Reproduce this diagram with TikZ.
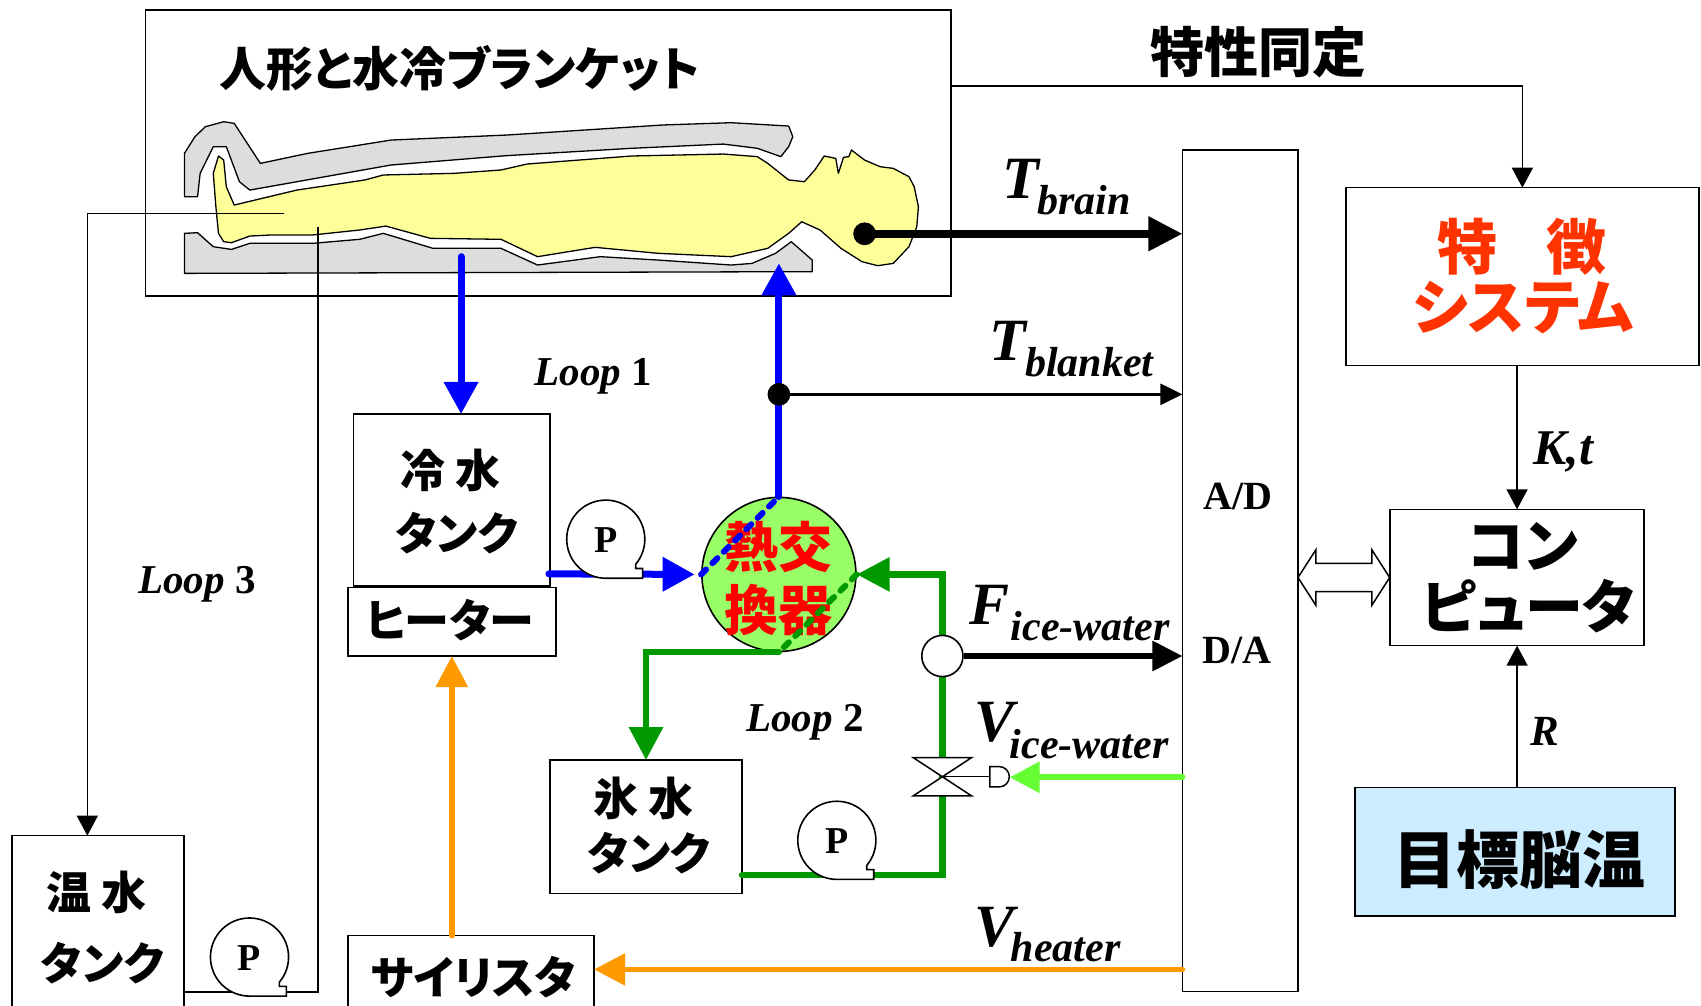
\documentclass[tikz,border=0pt]{standalone}
\usepackage{fontspec}
\setmainfont{Liberation Serif}
\newfontfamily\jp{Noto Sans CJK JP}[RawFeature=+palt]
\usetikzlibrary{arrows.meta,calc}

\definecolor{pipeblue}{HTML}{0000FF}
\definecolor{pipegreen}{HTML}{009900}
\definecolor{signalgreen}{HTML}{66FF33}
\definecolor{pipeorange}{HTML}{FF9900}
\definecolor{hxfill}{HTML}{99FF66}
\definecolor{bodyfill}{HTML}{FFFF99}
\definecolor{blanketfill}{HTML}{DDDDDD}
\definecolor{targetfill}{HTML}{CCECFF}
\definecolor{featred}{HTML}{FF3300}
\newcommand\fsz[1]{\fontsize{#1}{#1}\selectfont}
\def\pxu{1.0848pt}

\begin{document}
\begin{tikzpicture}[x=1.0848pt, y=-1.0848pt,
  box/.style={draw, line width=1.6pt, fill=white, inner sep=0pt, outer sep=0pt, rectangle},
  jt/.style={inner sep=0pt, outer sep=0pt, font=\jp\bfseries\fsz{#1}},
  sub/.style={inner sep=0pt, outer sep=0pt, anchor=base west, font=\bfseries\itshape\fsz{#1}},
  plain/.style={inner sep=0pt, outer sep=0pt, anchor=base, font=\bfseries\fsz{#1}},
  sig/.style={line width=1.5pt, -{Triangle[length=20pt,width=21pt]}},
  bluepipe/.style={draw=pipeblue, line width=7pt, line cap=round, -{Triangle[length=32pt,width=33pt]}},
  greenpipe/.style={draw=pipegreen, line width=6.5pt, line cap=round, -{Triangle[length=33pt,width=33pt]}},
  orangepipe/.style={draw=pipeorange, line width=5.5pt, line cap=round, -{Triangle[length=31pt,width=31pt]}},
  dot/.style={circle, fill=black, inner sep=0pt, minimum size=21*\pxu},
  pump/.pic={
    \draw[line width=1.6pt, fill=white] (40:36) arc[start angle=40, end angle=-270, radius=36]
      -- (34,36) -- (34,27) -- (27.6,27) -- cycle;
    \node[inner sep=0pt, font=\bfseries\fsz{38pt}] (-lbl) at (0,1) {P};
  }]
\useasboundingbox (0,0) rectangle (1568,927);

% ---------- manikin and cooling blanket ----------
\node[box, minimum width=742.4*\pxu, minimum height=264*\pxu] (dummy) at (505.2,141) {};
\node[jt=47pt] (title) at (423.5,63) {人形と水冷ブランケット};

\draw[line width=1.3pt, fill=blanketfill, line join=round]
  (170.0,181.3) -- (170.0,141.4) -- (179.7,126.0) -- (189.3,116.8) -- (206.2,112.2) -- (215.9,113.7)
  -- (240.0,150.6) -- (283.4,141.4) -- (360.5,129.1) -- (466.6,124.5) -- (611.3,115.2) -- (674.0,113.1)
  -- (727.0,116.2) -- (730.8,126.0) -- (727.0,135.2) -- (719.8,144.4) -- (698.1,136.7) -- (666.7,132.8)
  -- (582.3,136.7) -- (466.6,143.5) -- (360.5,152.1) -- (230.3,175.2) -- (220.7,167.5) -- (208.6,135.2)
  -- (196.6,135.2) -- (184.5,159.8) -- (182.1,181.3) -- cycle;
\draw[line width=1.3pt, fill=blanketfill, line join=round]
  (170.0,215.1) -- (182.1,214.5) -- (186.9,218.8) -- (196.6,227.4) -- (213.4,229.9) -- (230.3,224.3)
  -- (288.2,224.3) -- (331.6,220.6) -- (353.3,215.1) -- (399.1,228.9) -- (461.8,228.9) -- (495.5,244.3)
  -- (553.4,236.6) -- (606.4,239.7) -- (674.0,244.3) -- (693.2,242.8) -- (714.9,233.5) -- (729.4,222.8)
  -- (748.7,239.7) -- (748.7,250.4) -- (170.0,252.0) -- cycle;
\draw[line width=1.3pt, fill=bodyfill, line join=round]
  (201.4,143.8) -- (196.6,159.8) -- (199.0,190.5) -- (201.4,215.1) -- (206.2,222.8) -- (213.4,223.7)
  -- (230.3,217.6) -- (249.6,216.6) -- (288.2,216.6) -- (331.6,212.0) -- (355.7,208.4) -- (396.7,219.7)
  -- (461.8,220.6) -- (495.5,236.6) -- (548.6,228.0) -- (606.4,233.5) -- (674.0,236.6) -- (707.7,228.9)
  -- (727.0,215.1) -- (739.0,204.4) -- (755.9,212.0) -- (775.2,228.9) -- (794.5,241.2) -- (809.0,244.9)
  -- (823.4,242.8) -- (837.9,227.4) -- (845.1,209.0) -- (846.6,190.5) -- (842.7,172.1) -- (837.9,162.9)
  -- (823.4,155.2) -- (811.4,153.7) -- (796.9,147.5) -- (784.9,138.3) -- (782.4,144.4) -- (777.6,145.0)
  -- (772.8,159.8) -- (770.4,146.0) -- (759.8,143.8) -- (751.1,156.7) -- (741.5,167.5) -- (727.0,165.9)
  -- (707.7,150.6) -- (698.1,144.4) -- (666.7,142.0) -- (582.3,143.8) -- (485.9,151.2) -- (461.8,156.7)
  -- (418.4,159.8) -- (353.3,161.3) -- (336.4,165.9) -- (273.7,175.2) -- (215.9,189.0) -- (208.6,172.1)
  -- (206.2,147.5) -- cycle;

% ---------- boxes ----------
\node[box, minimum width=106.5*\pxu, minimum height=776*\pxu] (ad) at (1143.25,526) {};
\node[box, minimum width=325.1*\pxu, minimum height=164*\pxu] (feat) at (1403.35,255) {};
\node[box, minimum width=234.1*\pxu, minimum height=125.7*\pxu] (comp) at (1398.45,532.35) {};
\node[box, fill=targetfill, minimum width=295*\pxu, minimum height=118.4*\pxu] (target) at (1396.5,785.2) {};
\node[box, minimum width=181*\pxu, minimum height=158.4*\pxu] (cold) at (416.5,460.8) {};
\node[box, minimum width=191.9*\pxu, minimum height=63*\pxu] (heater) at (416.65,573.2) {};
\node[box, minimum width=177*\pxu, minimum height=122.9*\pxu] (ice) at (595.5,762.05) {};
\node[box, minimum width=158.4*\pxu, minimum height=179.7*\pxu] (warm) at (90.2,860.15) {};
\node[box, minimum width=227*\pxu, minimum height=87.5*\pxu] (thyr) at (434.1,906.25) {};
\node[circle, draw, line width=1.6pt, fill=hxfill, inner sep=0pt, minimum size=142*\pxu] (hx) at (718,529.5) {};

% ---------- loop 1 (cold water) ----------
\coordinate (blkout) at (425,236.6);
\draw[bluepipe] (blkout) -- (blkout |- cold.north);
\coordinate (coldout) at (506,529);
\draw[bluepipe, shorten >=6.5pt] (coldout) -- (hx.west);
\coordinate (blkin) at (718,242.7);
\draw[bluepipe] (hx.north) -- (blkin);
\node[dot] (tblank) at (718,363.5) {};
\draw[line width=2.5pt, -{Triangle[length=22pt,width=21pt]}] (tblank.center) -- (tblank -| ad.west);
\node[dot] (brain) at (797,215.5) {};
\draw[line width=7.5pt, -{Triangle[length=34pt,width=33pt]}] (brain.center) -- (brain -| ad.west);

% ---------- loop 2 (ice water) ----------
\draw[greenpipe] (hx.south) -| (ice.north);
\coordinate (iceout) at (684,806.6);
\coordinate (gcorner) at (868.7,529.5);
\draw[greenpipe] (iceout) -| (gcorner) -- (hx.east);
\node[circle, draw, line width=1.6pt, fill=white, inner sep=0pt, minimum size=38*\pxu] (fm) at (868.7,604.7) {};
\draw[line width=6pt, -{Triangle[length=30pt,width=29pt]}] (fm.east) -- (fm -| ad.west);
\coordinate (valve) at (868.7,716);
\coordinate (act) at (912.4,716);
\draw[line width=1.5pt] (valve) -- (act);
\draw[line width=1.5pt, fill=white] ($(valve)+(-27,-17.7)$) -- ++(54,0) -- ++(-54,35.4) -- ++(54,0) -- cycle;
\draw[line width=1.5pt, fill=white] ($(act)+(0,-9.4)$) -- ++(8.6,0) arc[start angle=-90, end angle=90, radius=9.4] -- ($(act)+(0,9.4)$) -- cycle;
\coordinate (actin) at (930.7,716.5);
\draw[draw=signalgreen, line width=6pt, line cap=round, -{Triangle[length=30pt,width=30pt]}] (actin -| ad.west) -- (actin);

% ---------- heater drive ----------
\coordinate (thyin) at (547.6,893.6);
\draw[orangepipe] (thyin -| ad.west) -- (thyin);
\coordinate (thytop) at (416.5,862.5);
\draw[orangepipe] (thytop) -- (thytop |- heater.south);

% ---------- loop 3 (warm water) ----------
\coordinate (l3a) at (262,197);
\coordinate (w3in) at (80.5,770.3);
\draw[sig] (l3a) -| (w3in);
\coordinate (w3out) at (169.4,914.2);
\coordinate (l3b) at (293,209.7);
\draw[line width=1.5pt] (w3out) -| (l3b);

% ---------- pumps ----------
\pic (pa) at (558.4,497) {pump};
\pic (pb) at (771.4,774.6) {pump};
\pic (pc) at (230,882.2) {pump};

% ---------- heat exchanger ----------
\node[jt=54pt, text=red] (hx1) at (717.5,504) {熱交};
\node[jt=54pt, text=red] (hx2) at (717.5,562.3) {換器};
\draw[pipeblue, line width=6pt, line cap=round, dash pattern=on 7pt off 9pt] (hx.west) -- (hx.north);
\draw[pipegreen, line width=6pt, line cap=round, dash pattern=on 7pt off 9pt] (hx.east) -- (hx.south);

% ---------- identification and control ----------
\coordinate (dm1) at (876.4,79.3);
\draw[sig] (dm1) -| (feat.north);
\node[jt=54pt] (ident) at (1160.5,47.7) {特性同定};
\draw[sig] (feat.south -| comp.north) -- (comp.north);
\draw[sig] (target.north -| comp.south) -- (comp.south);
\coordinate (dbl) at (ad.east |- comp.west);
\draw[line width=1.5pt, fill=white] (dbl) -- ++(16.4,-25.5) -- ++(0,12.5) -- ++(51.7,0) -- ++(0,-12.5)
  -- ++(16.4,25.5) -- ++(-16.4,25.5) -- ++(0,-12.5) -- ++(-51.7,0) -- ++(0,12.5) -- cycle;

% ---------- texts ----------
\node[jt=60pt, text=featred] (feat1) at (1403,227.7) {特\hspace{49pt}徴};
\node[jt=60pt, text=featred] (feat2) at (1404,283.5) {システム};
\node[jt=58pt] (comp1) at (1404,504) {コン};
\node[jt=58pt] (comp2) at (1409,558.5) {ピュータ};
\node[jt=63pt] (targ) at (1400.5,792) {目標脳温};
\node[jt=45pt] (cold1) at (415.3,434) {冷 水};
\node[jt=45pt] (cold2) at (421,491) {タンク};
\node[jt=45pt] (heat) at (414.6,571.5) {ヒーター};
\node[jt=45pt] (ice1) at (593,736) {氷 水};
\node[jt=45pt] (ice2) at (598.5,786) {タンク};
\node[jt=45pt] (warm1) at (88.9,823) {温 水};
\node[jt=45pt] (warm2) at (94.4,888) {タンク};
\node[jt=45pt] (thy) at (436.4,901) {サイリスタ};

\node[plain=40pt] (adl) at (1141,470) {A/D};
\node[plain=40pt] (dal) at (1140,612) {D/A};
\node[sub=60pt] (tb1) at (924,182.6) {T};
\node[sub=42pt] (tb2) at (956,198) {brain};
\node[sub=60pt] (tk1) at (912,332) {T};
\node[sub=42pt] (tk2) at (945,347) {blanket};
\node[sub=60pt] (fw1) at (894,575.5) {F};
\node[sub=42pt] (fw2) at (931.7,590) {ice-water};
\node[sub=60pt] (vw1) at (898,683.7) {V};
\node[sub=42pt] (vw2) at (930.8,699) {ice-water};
\node[sub=60pt] (vh1) at (898,872.7) {V};
\node[sub=42pt] (vh2) at (931.7,886.5) {heater};
\node[sub=50pt] (kt) at (1413.7,428.6) {K,t};
\node[sub=43pt] (rl) at (1411,686.8) {R};
\node[sub=41pt] (loop1) at (493,355) {Loop \upshape 1};
\node[sub=41pt] (loop2) at (688,674.5) {Loop \upshape 2};
\node[sub=41pt] (loop3) at (127.5,547.5) {Loop \upshape 3};
\end{tikzpicture}
\end{document}
